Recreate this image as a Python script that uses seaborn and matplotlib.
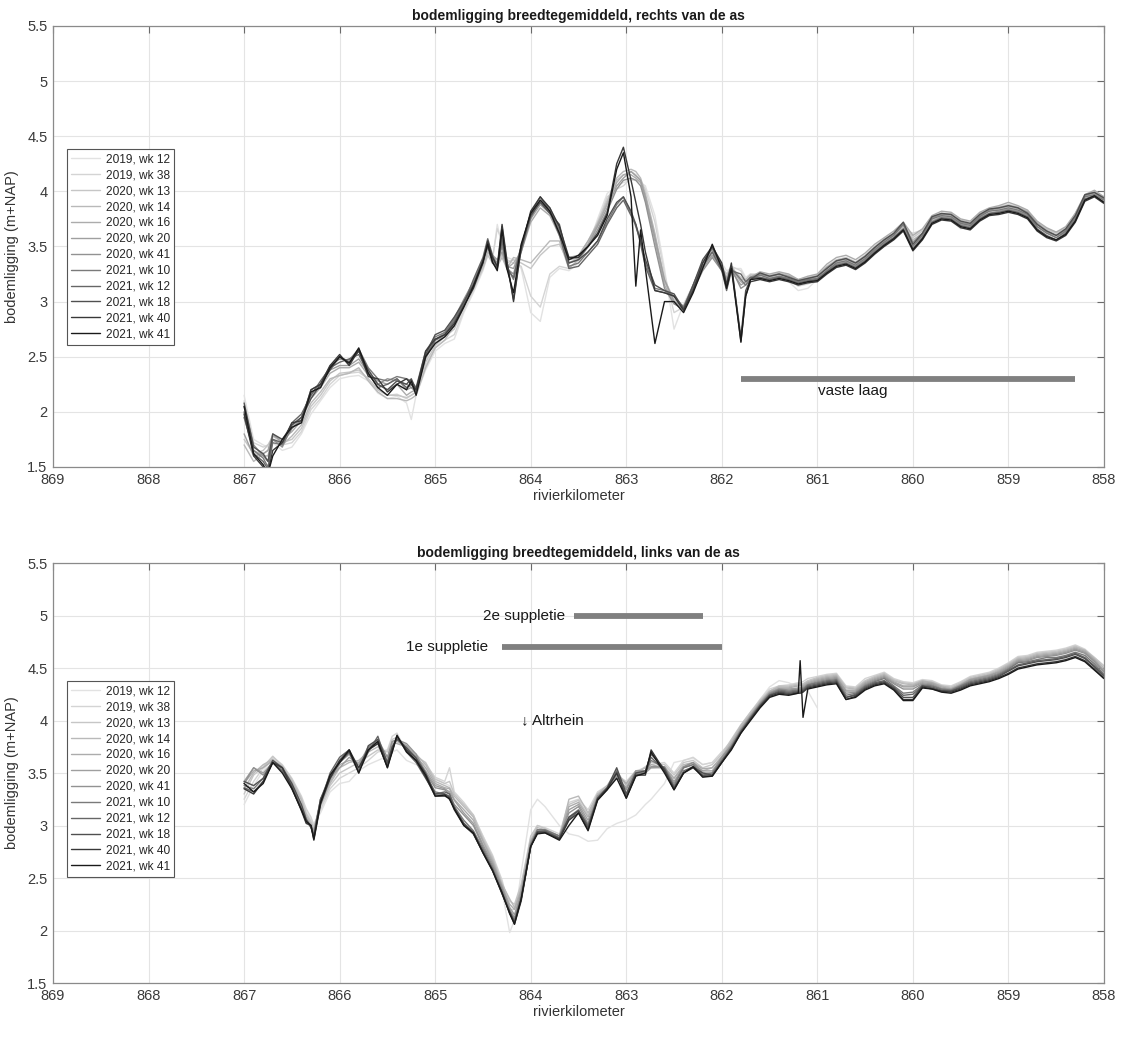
import numpy as np
import pandas as pd
import matplotlib
matplotlib.use("Agg")
import matplotlib.pyplot as plt
import seaborn as sns
from matplotlib.ticker import FuncFormatter

# survey labels and their grey shades (old = light, recent = dark)
labels = ["2019, wk 12", "2019, wk 38", "2020, wk 13", "2020, wk 14", "2020, wk 16",
          "2020, wk 20", "2020, wk 41", "2021, wk 10", "2021, wk 12", "2021, wk 18",
          "2021, wk 40", "2021, wk 41"]
greys = ["#e2e2e2", "#d4d4d4", "#c6c6c6", "#b9b9b9", "#acacac", "#9f9f9f",
         "#929292", "#7a7a7a", "#666666", "#505050", "#383838", "#1a1a1a"]

x_ticks = [869, 868, 867, 866, 865, 864, 863, 862, 861, 860, 859, 858]
y_ticks = [1.5, 2, 2.5, 3, 3.5, 4, 4.5, 5, 5.5]

# ---------------- right of the axis ----------------
km_rechts = [867.0, 866.9, 866.8, 866.75, 866.7, 866.6, 866.5, 866.4, 866.3, 866.2, 866.1, 866.0,
             865.9, 865.8, 865.7, 865.6, 865.5, 865.4, 865.3, 865.25, 865.2,
             865.1, 865.0, 864.9, 864.8, 864.7, 864.6, 864.5, 864.45, 864.4, 864.35, 864.3, 864.25,
             864.18, 864.1, 864.0,
             863.9, 863.8, 863.7, 863.6, 863.5, 863.4, 863.3, 863.2, 863.1, 863.03, 862.95, 862.9,
             862.85, 862.8, 862.7, 862.6, 862.5, 862.4, 862.3, 862.2, 862.1, 862.0, 861.95, 861.9,
             861.8, 861.75, 861.7,
             861.6, 861.5, 861.4, 861.3, 861.2, 861.1, 861.0, 860.9, 860.8, 860.7, 860.6, 860.5,
             860.4, 860.3, 860.2, 860.1, 860.0, 859.9, 859.8, 859.7, 859.6, 859.5, 859.4, 859.3,
             859.2, 859.1, 859.0, 858.9, 858.8, 858.7, 858.6, 858.5, 858.4, 858.3, 858.2, 858.1, 858.0]

r_2019_wk12 = [2.15, 1.75, 1.7, 1.68, 1.72, 1.65, 1.68, 1.8, 1.98, 2.1, 2.22, 2.3, 2.32, 2.33, 2.28, 2.17, 2.12, 2.14, 2.08, 1.93, 2.15,
               2.38, 2.55, 2.62, 2.66, 2.9, 3.08, 3.28, 3.42, 3.38, 3.7, 3.5, 3.4, 3.38, 3.3, 2.9,
               2.82, 3.22, 3.3, 3.28, 3.35, 3.5, 3.75, 3.98, 4.05, 4.08, 4.1, 4.1, 4.08, 4.05, 3.78, 3.3, 2.75, 2.98, 3.15, 3.35, 3.45, 3.35, 3.28, 3.3, 3.3, 3.22, 3.25,
               3.22, 3.2, 3.22, 3.18, 3.1, 3.12, 3.2, 3.28, 3.33, 3.35, 3.3, 3.38, 3.45, 3.52, 3.58, 3.65, 3.6, 3.64, 3.72, 3.75, 3.74, 3.66, 3.68, 3.74, 3.78, 3.8, 3.82, 3.8, 3.78, 3.68, 3.64, 3.62, 3.66, 3.75, 3.92, 3.98, 3.94]
r_2019_wk38 = [2.1, 1.72, 1.68, 1.7, 1.75, 1.7, 1.72, 1.82, 2.02, 2.12, 2.25, 2.33, 2.35, 2.36, 2.3, 2.2, 2.15, 2.16, 2.12, 2.15, 2.18,
               2.42, 2.58, 2.65, 2.7, 2.92, 3.1, 3.3, 3.45, 3.4, 3.66, 3.55, 3.38, 3.35, 3.32, 3.05,
               2.95, 3.25, 3.32, 3.3, 3.38, 3.52, 3.72, 3.95, 4.02, 4.05, 4.12, 4.1, 4.1, 4.02, 3.72, 3.25, 2.9, 2.95, 3.12, 3.32, 3.48, 3.32, 3.25, 3.32, 3.28, 3.2, 3.25,
               3.25, 3.22, 3.24, 3.2, 3.14, 3.16, 3.2, 3.28, 3.35, 3.37, 3.32, 3.38, 3.46, 3.53, 3.6, 3.66, 3.62, 3.65, 3.74, 3.77, 3.76, 3.7, 3.7, 3.76, 3.8, 3.82, 3.84, 3.82, 3.8, 3.7, 3.66, 3.63, 3.67, 3.76, 3.94, 3.99, 3.95]
r_2020_wk13 = [1.75, 1.62, 1.65, 1.7, 1.78, 1.72, 1.75, 1.85, 2.05, 2.15, 2.28, 2.35, 2.36, 2.38, 2.3, 2.2, 2.15, 2.15, 2.13, 2.15, 2.18,
               2.45, 2.6, 2.68, 2.75, 2.95, 3.12, 3.3, 3.42, 3.35, 3.35, 3.42, 3.35, 3.38, 3.35, 3.3,
               3.42, 3.5, 3.52, 3.35, 3.4, 3.55, 3.72, 3.92, 4.1, 4.15, 4.18, 4.15, 4.1, 3.95, 3.6, 3.2, 3.02, 2.95, 3.12, 3.3, 3.45, 3.3, 3.25, 3.3, 3.22, 3.18, 3.22,
               3.26, 3.24, 3.26, 3.24, 3.2, 3.22, 3.24, 3.32, 3.38, 3.4, 3.36, 3.42, 3.5, 3.57, 3.62, 3.7, 3.58, 3.64, 3.77, 3.8, 3.8, 3.74, 3.72, 3.8, 3.84, 3.86, 3.88, 3.86, 3.82, 3.72, 3.66, 3.62, 3.66, 3.8, 3.96, 4.0, 3.94]
r_2020_wk14 = [1.7, 1.55, 1.62, 1.65, 1.75, 1.7, 1.78, 1.88, 2.08, 2.18, 2.3, 2.33, 2.35, 2.4, 2.28, 2.18, 2.12, 2.12, 2.1, 2.12, 2.15,
               2.4, 2.58, 2.65, 2.78, 2.97, 3.15, 3.32, 3.45, 3.38, 3.32, 3.4, 3.3, 3.4, 3.38, 3.35,
               3.45, 3.55, 3.55, 3.3, 3.38, 3.5, 3.7, 3.9, 4.12, 4.18, 4.2, 4.18, 4.12, 3.98, 3.62, 3.18, 3.0, 2.94, 3.1, 3.32, 3.42, 3.28, 3.22, 3.32, 3.2, 3.2, 3.24,
               3.24, 3.22, 3.25, 3.22, 3.18, 3.2, 3.22, 3.3, 3.36, 3.38, 3.34, 3.4, 3.48, 3.55, 3.6, 3.68, 3.56, 3.62, 3.75, 3.79, 3.78, 3.72, 3.7, 3.78, 3.82, 3.84, 3.86, 3.84, 3.8, 3.7, 3.65, 3.6, 3.64, 3.78, 3.95, 3.98, 3.92]
r_2020_wk16 = [1.95, 1.65, 1.6, 1.6, 1.78, 1.75, 1.82, 1.92, 2.12, 2.22, 2.35, 2.4, 2.4, 2.45, 2.33, 2.25, 2.2, 2.25, 2.15, 2.18, 2.2,
               2.5, 2.62, 2.7, 2.8, 2.98, 3.15, 3.35, 3.48, 3.42, 3.35, 3.45, 3.3, 3.35, 3.45, 3.72,
               3.85, 3.78, 3.6, 3.4, 3.42, 3.55, 3.7, 3.88, 4.08, 4.15, 4.15, 4.12, 4.08, 3.92, 3.55, 3.15, 2.98, 2.95, 3.15, 3.35, 3.45, 3.3, 3.22, 3.3, 3.18, 3.15, 3.22,
               3.27, 3.25, 3.27, 3.25, 3.2, 3.23, 3.25, 3.34, 3.4, 3.42, 3.38, 3.44, 3.52, 3.58, 3.64, 3.72, 3.6, 3.66, 3.78, 3.82, 3.81, 3.75, 3.73, 3.81, 3.85, 3.87, 3.9, 3.87, 3.83, 3.73, 3.67, 3.63, 3.68, 3.8, 3.97, 4.01, 3.95]
r_2020_wk20 = [1.8, 1.6, 1.62, 1.65, 1.8, 1.72, 1.85, 1.95, 2.15, 2.25, 2.38, 2.42, 2.42, 2.48, 2.35, 2.28, 2.25, 2.3, 2.2, 2.22, 2.2,
               2.48, 2.65, 2.72, 2.82, 3.0, 3.18, 3.35, 3.5, 3.42, 3.38, 3.45, 3.32, 3.3, 3.48, 3.75,
               3.88, 3.8, 3.62, 3.38, 3.4, 3.52, 3.68, 3.85, 4.05, 4.12, 4.18, 4.14, 4.1, 3.95, 3.58, 3.2, 3.0, 2.96, 3.12, 3.3, 3.42, 3.32, 3.2, 3.28, 3.15, 3.18, 3.2,
               3.22, 3.2, 3.23, 3.2, 3.16, 3.18, 3.2, 3.28, 3.34, 3.36, 3.32, 3.38, 3.46, 3.53, 3.58, 3.66, 3.52, 3.6, 3.73, 3.77, 3.76, 3.7, 3.68, 3.76, 3.8, 3.82, 3.84, 3.82, 3.78, 3.68, 3.63, 3.58, 3.63, 3.76, 3.93, 3.96, 3.9]
r_2020_wk41 = [2.05, 1.7, 1.6, 1.55, 1.75, 1.68, 1.88, 1.95, 2.18, 2.22, 2.4, 2.5, 2.45, 2.55, 2.38, 2.25, 2.3, 2.28, 2.25, 2.22, 2.18,
               2.52, 2.65, 2.7, 2.85, 3.02, 3.18, 3.38, 3.52, 3.4, 3.35, 3.5, 3.3, 3.25, 3.5, 3.78,
               3.9, 3.82, 3.65, 3.35, 3.38, 3.5, 3.65, 3.82, 4.02, 4.1, 4.12, 4.1, 4.05, 3.9, 3.5, 3.12, 2.98, 2.93, 3.1, 3.28, 3.4, 3.28, 3.18, 3.3, 3.12, 3.15, 3.22,
               3.25, 3.23, 3.25, 3.23, 3.19, 3.21, 3.23, 3.31, 3.37, 3.39, 3.35, 3.41, 3.49, 3.56, 3.61, 3.7, 3.54, 3.62, 3.76, 3.79, 3.79, 3.72, 3.7, 3.78, 3.83, 3.85, 3.87, 3.85, 3.81, 3.71, 3.64, 3.6, 3.65, 3.78, 3.96, 3.99, 3.93]
r_2021_wk10 = [1.95, 1.65, 1.58, 1.5, 1.72, 1.7, 1.85, 1.92, 2.2, 2.25, 2.42, 2.48, 2.47, 2.57, 2.4, 2.3, 2.28, 2.32, 2.3, 2.28, 2.22,
               2.55, 2.68, 2.72, 2.84, 3.0, 3.16, 3.36, 3.55, 3.38, 3.32, 3.58, 3.32, 3.2, 3.45, 3.76,
               3.92, 3.85, 3.65, 3.32, 3.35, 3.45, 3.55, 3.72, 3.88, 3.95, 3.8, 3.68, 3.55, 3.35, 3.12, 3.1, 3.05, 2.95, 3.15, 3.35, 3.48, 3.3, 3.12, 3.3, 3.2, 3.15, 3.2,
               3.24, 3.21, 3.23, 3.21, 3.18, 3.2, 3.21, 3.28, 3.35, 3.37, 3.33, 3.39, 3.47, 3.54, 3.6, 3.7, 3.5, 3.6, 3.75, 3.78, 3.77, 3.71, 3.69, 3.77, 3.82, 3.83, 3.85, 3.83, 3.79, 3.68, 3.62, 3.58, 3.64, 3.76, 3.95, 3.97, 3.92]
r_2021_wk12 = [2.0, 1.62, 1.55, 1.48, 1.75, 1.72, 1.9, 1.98, 2.15, 2.28, 2.4, 2.45, 2.48, 2.52, 2.35, 2.22, 2.25, 2.3, 2.22, 2.25, 2.18,
               2.5, 2.65, 2.7, 2.82, 2.98, 3.2, 3.4, 3.57, 3.42, 3.3, 3.55, 3.3, 3.22, 3.5, 3.8,
               3.95, 3.82, 3.6, 3.3, 3.32, 3.42, 3.52, 3.7, 3.85, 3.92, 3.78, 3.7, 3.52, 3.32, 3.1, 3.08, 3.05, 2.94, 3.12, 3.32, 3.45, 3.28, 3.1, 3.28, 3.25, 3.18, 3.22,
               3.22, 3.2, 3.22, 3.2, 3.17, 3.19, 3.2, 3.27, 3.33, 3.35, 3.31, 3.37, 3.45, 3.52, 3.58, 3.66, 3.48, 3.58, 3.72, 3.76, 3.75, 3.69, 3.67, 3.75, 3.8, 3.81, 3.83, 3.81, 3.77, 3.66, 3.6, 3.56, 3.62, 3.74, 3.93, 3.96, 3.9]
r_2021_wk18 = [2.08, 1.68, 1.62, 1.55, 1.8, 1.75, 1.88, 1.95, 2.12, 2.25, 2.38, 2.5, 2.45, 2.55, 2.38, 2.25, 2.2, 2.28, 2.25, 2.3, 2.2,
               2.52, 2.7, 2.74, 2.86, 3.0, 3.15, 3.38, 3.5, 3.35, 3.3, 3.68, 3.35, 3.02, 3.5, 3.78,
               3.9, 3.8, 3.7, 3.35, 3.38, 3.45, 3.55, 3.75, 3.9, 3.95, 3.82, 3.7, 3.55, 3.38, 3.15, 3.1, 3.07, 2.93, 3.15, 3.38, 3.5, 3.32, 3.15, 3.32, 2.68, 3.1, 3.2,
               3.26, 3.23, 3.25, 3.22, 3.19, 3.21, 3.23, 3.3, 3.37, 3.39, 3.35, 3.41, 3.49, 3.56, 3.62, 3.72, 3.52, 3.62, 3.77, 3.8, 3.79, 3.73, 3.71, 3.79, 3.84, 3.85, 3.87, 3.85, 3.8, 3.7, 3.64, 3.6, 3.66, 3.78, 3.97, 3.99, 3.94]
r_2021_wk40 = [1.98, 1.6, 1.5, 1.45, 1.65, 1.72, 1.9, 1.92, 2.2, 2.25, 2.42, 2.52, 2.42, 2.56, 2.32, 2.3, 2.18, 2.25, 2.3, 2.25, 2.2,
               2.55, 2.66, 2.7, 2.8, 2.96, 3.12, 3.35, 3.55, 3.4, 3.32, 3.7, 3.38, 3.0, 3.48, 3.82,
               3.95, 3.85, 3.68, 3.4, 3.4, 3.5, 3.62, 3.8, 4.25, 4.4, 4.1, 3.9, 3.7, 3.45, 3.1, 3.08, 3.05, 2.92, 3.1, 3.35, 3.5, 3.35, 3.15, 3.35, 2.63, 3.05, 3.18,
               3.2, 3.18, 3.2, 3.18, 3.15, 3.17, 3.18, 3.25, 3.31, 3.33, 3.29, 3.35, 3.43, 3.5, 3.56, 3.64, 3.46, 3.56, 3.7, 3.74, 3.73, 3.67, 3.65, 3.73, 3.78, 3.79, 3.81, 3.79, 3.75, 3.64, 3.58, 3.55, 3.6, 3.72, 3.91, 3.95, 3.89]
r_2021_wk41 = [2.05, 1.62, 1.52, 1.44, 1.6, 1.75, 1.86, 1.9, 2.18, 2.22, 2.4, 2.5, 2.44, 2.58, 2.35, 2.22, 2.15, 2.25, 2.2, 2.28, 2.15,
               2.5, 2.62, 2.68, 2.78, 2.95, 3.14, 3.36, 3.52, 3.36, 3.28, 3.65, 3.3, 3.08, 3.52, 3.8,
               3.92, 3.82, 3.62, 3.38, 3.42, 3.5, 3.6, 3.78, 4.2, 4.35, 3.95, 3.14, 3.65, 3.3, 2.62, 3.0, 3.0, 2.9, 3.08, 3.3, 3.52, 3.3, 3.12, 3.3, 2.64, 3.05, 3.2,
               3.21, 3.19, 3.21, 3.19, 3.16, 3.18, 3.19, 3.26, 3.32, 3.34, 3.3, 3.36, 3.44, 3.51, 3.57, 3.65, 3.47, 3.57, 3.71, 3.75, 3.74, 3.68, 3.66, 3.74, 3.79, 3.8, 3.82, 3.8, 3.76, 3.65, 3.59, 3.56, 3.61, 3.73, 3.92, 3.96, 3.9]

# ---------------- left of the axis ----------------
km_links = [867.0, 866.9, 866.8, 866.7, 866.6, 866.5, 866.4, 866.35, 866.3, 866.27, 866.2, 866.1,
            866.0, 865.9, 865.8, 865.7, 865.6, 865.5, 865.45, 865.4, 865.3, 865.2, 865.1, 865.0,
            864.9, 864.85, 864.8, 864.7, 864.6, 864.5, 864.4, 864.3, 864.22, 864.17, 864.1, 864.0,
            863.93, 863.85, 863.7, 863.6, 863.5, 863.4, 863.3, 863.2, 863.1, 863.0, 862.9, 862.8,
            862.74, 862.6, 862.5, 862.4, 862.3, 862.2, 862.1, 862.0,
            861.9, 861.8, 861.7, 861.6, 861.5, 861.4, 861.3, 861.2, 861.18, 861.15, 861.1, 861.0,
            860.9, 860.8, 860.7, 860.6, 860.5, 860.4, 860.3, 860.2, 860.1, 860.0, 859.9, 859.8,
            859.7, 859.6, 859.5, 859.4, 859.3, 859.2, 859.1, 859.0, 858.9, 858.8, 858.7, 858.6,
            858.5, 858.4, 858.3, 858.2, 858.1, 858.0]

l_2019_wk12 = [3.2, 3.38, 3.52, 3.64, 3.56, 3.42, 3.25, 3.15, 3.06, 3.02, 3.12, 3.32, 3.4, 3.42, 3.52, 3.58, 3.62, 3.66, 3.7, 3.72, 3.62, 3.58, 3.55, 3.45,
               3.4, 3.38, 3.3, 3.2, 3.08, 2.9, 2.7, 2.38, 1.98, 2.1, 2.55, 3.15, 3.25, 3.18, 3.0, 2.92, 2.9, 2.85, 2.86, 2.97, 3.02, 3.05, 3.1, 3.2, 3.25, 3.4, 3.6, 3.62, 3.64, 3.58, 3.6, 3.7,
               3.8, 3.95, 4.08, 4.2, 4.32, 4.38, 4.36, 4.32, 4.31, 4.3, 4.28, 4.12] + [np.nan] * 30
l_2019_wk38 = [3.25, 3.42, 3.55, 3.65, 3.58, 3.45, 3.28, 3.16, 3.08, 3.0, 3.15, 3.35, 3.45, 3.5, 3.55, 3.62, 3.7, 3.72, 3.85, 3.88, 3.7, 3.62, 3.58, 3.46,
               3.42, 3.55, 3.32, 3.22, 3.1, 2.9, 2.72, 2.48, 2.2, 2.2, 2.42, 2.88, 3.0, 2.98, 2.92, 3.22, 3.25, 3.15, 3.32, 3.38, 3.48, 3.42, 3.52, 3.55, 3.58, 3.6, 3.5, 3.62, 3.65, 3.58, 3.6, 3.7,
               3.8, 3.95, 4.07, 4.2, 4.3, 4.33, 4.34, 4.36, 4.36, 4.37, 4.4, 4.42, 4.44, 4.45, 4.33, 4.32, 4.4, 4.43, 4.46, 4.4, 4.37, 4.36, 4.39, 4.38, 4.34, 4.33, 4.37, 4.42, 4.44, 4.46, 4.5, 4.55, 4.61, 4.62, 4.65, 4.66, 4.67, 4.69, 4.72, 4.68, 4.6, 4.52]
l_2020_wk13 = [3.3, 3.48, 3.56, 3.66, 3.57, 3.44, 3.26, 3.12, 3.04, 2.98, 3.18, 3.38, 3.5, 3.55, 3.6, 3.66, 3.72, 3.7, 3.82, 3.84, 3.72, 3.66, 3.6, 3.44,
               3.4, 3.42, 3.3, 3.2, 3.1, 2.88, 2.7, 2.45, 2.28, 2.25, 2.44, 2.9, 3.0, 2.97, 2.9, 3.2, 3.24, 3.1, 3.3, 3.36, 3.5, 3.4, 3.5, 3.56, 3.6, 3.58, 3.48, 3.6, 3.62, 3.55, 3.58, 3.68,
               3.82, 3.96, 4.08, 4.19, 4.28, 4.33, 4.33, 4.35, 4.35, 4.35, 4.38, 4.41, 4.43, 4.44, 4.32, 4.31, 4.38, 4.42, 4.45, 4.39, 4.36, 4.35, 4.38, 4.37, 4.33, 4.32, 4.36, 4.41, 4.43, 4.45, 4.49, 4.54, 4.6, 4.61, 4.64, 4.65, 4.66, 4.68, 4.71, 4.67, 4.6, 4.52]
l_2020_wk14 = [3.35, 3.5, 3.58, 3.63, 3.55, 3.42, 3.24, 3.1, 3.02, 2.96, 3.2, 3.4, 3.55, 3.6, 3.62, 3.7, 3.75, 3.65, 3.78, 3.8, 3.74, 3.68, 3.58, 3.42,
               3.38, 3.36, 3.28, 3.18, 3.08, 2.86, 2.68, 2.44, 2.3, 2.22, 2.4, 2.86, 2.98, 2.96, 2.88, 3.25, 3.28, 3.12, 3.3, 3.38, 3.52, 3.38, 3.5, 3.55, 3.55, 3.56, 3.45, 3.58, 3.6, 3.52, 3.55, 3.66,
               3.8, 3.95, 4.06, 4.18, 4.28, 4.32, 4.32, 4.34, 4.34, 4.34, 4.37, 4.4, 4.42, 4.43, 4.31, 4.3, 4.37, 4.41, 4.44, 4.38, 4.35, 4.34, 4.38, 4.36, 4.33, 4.31, 4.35, 4.4, 4.42, 4.44, 4.48, 4.53, 4.59, 4.6, 4.63, 4.64, 4.65, 4.67, 4.7, 4.67, 4.59, 4.5]
l_2020_wk16 = [3.4, 3.52, 3.55, 3.62, 3.56, 3.4, 3.2, 3.08, 3.0, 2.95, 3.22, 3.42, 3.58, 3.62, 3.6, 3.72, 3.78, 3.62, 3.8, 3.78, 3.75, 3.66, 3.55, 3.4,
               3.36, 3.35, 3.25, 3.15, 3.05, 2.85, 2.66, 2.42, 2.25, 2.2, 2.38, 2.85, 2.96, 2.95, 2.9, 3.18, 3.22, 3.08, 3.28, 3.36, 3.48, 3.4, 3.52, 3.52, 3.58, 3.55, 3.45, 3.56, 3.6, 3.54, 3.55, 3.65,
               3.78, 3.93, 4.05, 4.17, 4.27, 4.31, 4.31, 4.33, 4.33, 4.33, 4.36, 4.39, 4.41, 4.42, 4.29, 4.29, 4.36, 4.4, 4.43, 4.37, 4.33, 4.33, 4.37, 4.36, 4.32, 4.3, 4.34, 4.39, 4.41, 4.43, 4.47, 4.52, 4.58, 4.59, 4.62, 4.63, 4.64, 4.66, 4.69, 4.66, 4.58, 4.48]
l_2020_wk20 = [3.42, 3.55, 3.5, 3.6, 3.54, 3.38, 3.18, 3.06, 3.0, 2.94, 3.25, 3.45, 3.55, 3.65, 3.58, 3.75, 3.8, 3.6, 3.76, 3.82, 3.76, 3.65, 3.52, 3.38,
               3.35, 3.32, 3.24, 3.12, 3.02, 2.82, 2.64, 2.42, 2.22, 2.15, 2.36, 2.84, 2.95, 2.94, 2.88, 3.15, 3.2, 3.05, 3.26, 3.35, 3.46, 3.36, 3.5, 3.5, 3.55, 3.55, 3.42, 3.55, 3.58, 3.52, 3.52, 3.64,
               3.77, 3.92, 4.04, 4.16, 4.26, 4.3, 4.3, 4.31, 4.31, 4.32, 4.35, 4.38, 4.4, 4.41, 4.28, 4.28, 4.35, 4.39, 4.42, 4.36, 4.32, 4.32, 4.36, 4.35, 4.31, 4.3, 4.34, 4.39, 4.41, 4.43, 4.46, 4.51, 4.57, 4.58, 4.61, 4.62, 4.63, 4.65, 4.68, 4.65, 4.57, 4.47]
l_2020_wk41 = [3.4, 3.55, 3.48, 3.6, 3.52, 3.36, 3.18, 3.05, 2.98, 2.92, 3.22, 3.48, 3.6, 3.68, 3.55, 3.72, 3.82, 3.65, 3.8, 3.82, 3.78, 3.68, 3.5, 3.36,
               3.34, 3.3, 3.2, 3.1, 3.0, 2.8, 2.62, 2.4, 2.2, 2.12, 2.34, 2.82, 2.95, 2.95, 2.9, 3.12, 3.18, 3.02, 3.28, 3.36, 3.48, 3.34, 3.52, 3.52, 3.56, 3.56, 3.4, 3.56, 3.6, 3.5, 3.5, 3.65,
               3.76, 3.91, 4.04, 4.16, 4.26, 4.3, 4.29, 4.3, 4.3, 4.31, 4.34, 4.37, 4.39, 4.4, 4.26, 4.27, 4.34, 4.38, 4.41, 4.35, 4.3, 4.3, 4.35, 4.34, 4.3, 4.29, 4.33, 4.38, 4.4, 4.42, 4.45, 4.5, 4.56, 4.57, 4.6, 4.61, 4.62, 4.64, 4.67, 4.64, 4.56, 4.46]
l_2021_wk10 = [3.38, 3.35, 3.45, 3.6, 3.55, 3.35, 3.15, 3.05, 3.0, 2.9, 3.25, 3.48, 3.62, 3.7, 3.55, 3.74, 3.8, 3.55, 3.72, 3.84, 3.72, 3.65, 3.48, 3.32,
               3.3, 3.28, 3.18, 3.05, 2.95, 2.78, 2.6, 2.38, 2.18, 2.1, 2.32, 2.82, 2.96, 2.96, 2.9, 3.08, 3.15, 3.0, 3.26, 3.35, 3.5, 3.3, 3.5, 3.5, 3.62, 3.55, 3.38, 3.55, 3.58, 3.48, 3.5, 3.62,
               3.75, 3.9, 4.03, 4.15, 4.25, 4.29, 4.28, 4.29, 4.29, 4.3, 4.34, 4.36, 4.38, 4.39, 4.24, 4.26, 4.33, 4.37, 4.4, 4.33, 4.26, 4.27, 4.34, 4.33, 4.3, 4.29, 4.33, 4.37, 4.39, 4.41, 4.44, 4.49, 4.55, 4.56, 4.58, 4.6, 4.6, 4.62, 4.65, 4.62, 4.54, 4.44]
l_2021_wk12 = [3.36, 3.32, 3.42, 3.6, 3.52, 3.38, 3.16, 3.03, 3.0, 2.88, 3.22, 3.5, 3.65, 3.72, 3.52, 3.7, 3.85, 3.58, 3.7, 3.85, 3.7, 3.6, 3.45, 3.3,
               3.32, 3.3, 3.18, 3.02, 2.94, 2.76, 2.58, 2.36, 2.16, 2.08, 2.3, 2.8, 2.94, 2.95, 2.88, 3.06, 3.14, 3.0, 3.25, 3.34, 3.52, 3.28, 3.48, 3.5, 3.65, 3.52, 3.36, 3.52, 3.56, 3.48, 3.48, 3.62,
               3.74, 3.9, 4.02, 4.14, 4.24, 4.28, 4.27, 4.28, 4.28, 4.29, 4.33, 4.35, 4.37, 4.38, 4.22, 4.25, 4.32, 4.36, 4.38, 4.32, 4.24, 4.25, 4.33, 4.32, 4.29, 4.28, 4.32, 4.36, 4.38, 4.4, 4.43, 4.48, 4.53, 4.55, 4.57, 4.58, 4.59, 4.61, 4.64, 4.6, 4.52, 4.43]
l_2021_wk18 = [3.42, 3.38, 3.45, 3.62, 3.55, 3.4, 3.2, 3.06, 2.98, 2.9, 3.25, 3.45, 3.6, 3.7, 3.5, 3.76, 3.82, 3.6, 3.75, 3.82, 3.74, 3.64, 3.5, 3.3,
               3.3, 3.27, 3.16, 3.02, 2.92, 2.75, 2.58, 2.35, 2.18, 2.08, 2.3, 2.8, 2.94, 2.94, 2.88, 3.08, 3.14, 2.98, 3.26, 3.36, 3.55, 3.3, 3.5, 3.52, 3.68, 3.54, 3.36, 3.5, 3.56, 3.5, 3.48, 3.6,
               3.74, 3.89, 4.02, 4.14, 4.24, 4.27, 4.26, 4.27, 4.27, 4.28, 4.32, 4.34, 4.36, 4.37, 4.22, 4.24, 4.31, 4.35, 4.37, 4.31, 4.22, 4.22, 4.33, 4.31, 4.28, 4.28, 4.31, 4.35, 4.37, 4.39, 4.42, 4.47, 4.52, 4.54, 4.56, 4.57, 4.58, 4.6, 4.63, 4.59, 4.51, 4.42]
l_2021_wk40 = [3.35, 3.3, 3.42, 3.6, 3.55, 3.36, 3.14, 3.02, 3.0, 2.86, 3.2, 3.45, 3.62, 3.72, 3.55, 3.72, 3.78, 3.56, 3.72, 3.85, 3.72, 3.62, 3.46, 3.28,
               3.28, 3.26, 3.15, 3.0, 2.92, 2.74, 2.57, 2.35, 2.17, 2.06, 2.28, 2.8, 2.93, 2.93, 2.87, 3.05, 3.12, 2.96, 3.25, 3.35, 3.5, 3.26, 3.48, 3.48, 3.72, 3.52, 3.34, 3.5, 3.55, 3.47, 3.47, 3.6,
               3.73, 3.88, 4.01, 4.13, 4.23, 4.26, 4.25, 4.26, 4.26, 4.27, 4.31, 4.33, 4.35, 4.36, 4.2, 4.23, 4.3, 4.34, 4.36, 4.3, 4.2, 4.2, 4.32, 4.3, 4.28, 4.27, 4.3, 4.34, 4.36, 4.38, 4.41, 4.45, 4.5, 4.52, 4.54, 4.55, 4.56, 4.58, 4.61, 4.57, 4.49, 4.4]
l_2021_wk41 = [3.4, 3.32, 3.4, 3.6, 3.5, 3.35, 3.15, 3.04, 3.0, 2.87, 3.22, 3.48, 3.6, 3.72, 3.5, 3.72, 3.8, 3.55, 3.7, 3.86, 3.7, 3.62, 3.48, 3.28,
               3.29, 3.25, 3.16, 3.0, 2.93, 2.74, 2.57, 2.36, 2.16, 2.06, 2.3, 2.8, 2.92, 2.93, 2.86, 3.0, 3.12, 2.95, 3.24, 3.34, 3.45, 3.26, 3.47, 3.5, 3.7, 3.5, 3.34, 3.5, 3.56, 3.46, 3.47, 3.6,
               3.72, 3.88, 4.0, 4.12, 4.22, 4.25, 4.24, 4.26, 4.57, 4.03, 4.3, 4.32, 4.34, 4.35, 4.2, 4.22, 4.29, 4.33, 4.35, 4.29, 4.19, 4.19, 4.31, 4.3, 4.27, 4.26, 4.29, 4.33, 4.35, 4.37, 4.4, 4.44, 4.49, 4.51, 4.53, 4.54, 4.55, 4.57, 4.6, 4.56, 4.48, 4.4]

rechts = [r_2019_wk12, r_2019_wk38, r_2020_wk13, r_2020_wk14, r_2020_wk16, r_2020_wk20,
          r_2020_wk41, r_2021_wk10, r_2021_wk12, r_2021_wk18, r_2021_wk40, r_2021_wk41]
links = [l_2019_wk12, l_2019_wk38, l_2020_wk13, l_2020_wk14, l_2020_wk16, l_2020_wk20,
         l_2020_wk41, l_2021_wk10, l_2021_wk12, l_2021_wk18, l_2021_wk40, l_2021_wk41]


def long_table(km, series):
    frames = [pd.DataFrame({"km": km, "z": vals, "meting": lab})
              for lab, vals in zip(labels, series)]
    return pd.concat(frames, ignore_index=True).dropna()


sns.set_style("white")
plt.rcParams["font.family"] = ["Liberation Sans", "DejaVu Sans"]

fig = plt.figure(figsize=(11.28, 10.51), dpi=100)
ax_top = fig.add_axes([0.047, 0.5557, 0.9317, 0.4196])
ax_bot = fig.add_axes([0.047, 0.0647, 0.9317, 0.3996])

titles = ["bodemligging breedtegemiddeld, rechts van de as",
          "bodemligging breedtegemiddeld, links van de as"]

for ax, km, series, title, leg_top in [(ax_top, km_rechts, rechts, titles[0], 0.721),
                                       (ax_bot, km_links, links, titles[1], 0.719)]:
    df = long_table(km, series)
    sns.lineplot(data=df, x="km", y="z", hue="meting", hue_order=labels,
                 palette=greys, estimator=None, sort=False, linewidth=1.0,
                 ax=ax, legend=True)
    ax.set_xlim(869, 858)
    ax.set_ylim(1.5, 5.5)
    ax.set_xticks(x_ticks)
    ax.set_yticks(y_ticks)
    ax.yaxis.set_major_formatter(FuncFormatter(lambda v, p: f"{v:g}"))
    ax.grid(True, color="#e4e4e4", linewidth=0.8)
    ax.set_axisbelow(True)
    for sp in ax.spines.values():
        sp.set_visible(True)
        sp.set_color("#8a8a8a")
        sp.set_linewidth(0.9)
    ax.tick_params(direction="in", top=True, right=True, length=5, width=0.8,
                   color="#6a6a6a", labelcolor="#3a3a3a", labelsize=10.5, pad=4)
    ax.set_xlabel("rivierkilometer", fontsize=10.5, color="#333333", labelpad=2)
    ax.set_ylabel("bodemligging (m+NAP)", fontsize=10.5, color="#333333", labelpad=6)
    ax.set_title(title, fontsize=10, fontweight="bold", color="#1a1a1a", pad=4)
    handles, labs = ax.get_legend_handles_labels()
    leg = ax.legend(handles, labs, loc="upper left", bbox_to_anchor=(0.0133, leg_top),
                    fontsize=8.6, frameon=True, fancybox=False, edgecolor="#555555",
                    framealpha=1, handlelength=2.4, labelspacing=0.33, borderpad=0.35,
                    handletextpad=0.5, borderaxespad=0)
    leg.get_frame().set_linewidth(0.8)

# fixed bed layer (right side)
ax_top.plot([861.8, 858.3], [2.3, 2.3], color="#808080", linewidth=4.2, solid_capstyle="butt")
ax_top.text(860.63, 2.19, "vaste laag", ha="center", va="center", fontsize=11, color="#1a1a1a")

# nourishments and Altrhein (left side)
ax_bot.plot([863.55, 862.2], [5.0, 5.0], color="#808080", linewidth=4.2, solid_capstyle="butt")
ax_bot.plot([864.3, 862.0], [4.7, 4.7], color="#808080", linewidth=4.2, solid_capstyle="butt")
ax_bot.text(863.64, 5.0, "2e suppletie", ha="right", va="center", fontsize=11, color="#1a1a1a")
ax_bot.text(864.45, 4.7, "1e suppletie", ha="right", va="center", fontsize=11, color="#1a1a1a")
ax_bot.text(864.1, 4.0, "↓ Altrhein", ha="left", va="center", fontsize=11, color="#1a1a1a")

fig.savefig("out.png", dpi=100)
